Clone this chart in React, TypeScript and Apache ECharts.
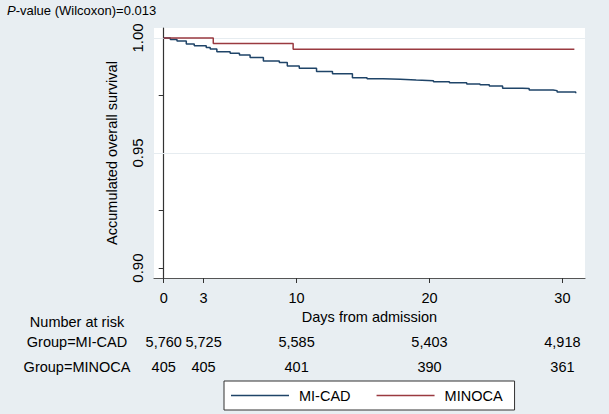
import React, { useEffect, useRef } from "react";
import * as echarts from "echarts";

const MICAD_DAYS = [0, 0.5, 1, 1.7, 2.3, 3.2, 3.5, 4.0, 5.0, 5.7, 6.5, 7.5, 8.7, 9.3, 10.2, 11.5, 12.7, 14.2, 15.3, 16.5, 17.8, 19.0, 20.3, 21.5, 22.8, 23.8, 24.5, 25.5, 27.0, 27.5, 29.3, 29.6, 31.0];
const MICAD_SURV = [1.0, 0.9993, 0.9986, 0.9973, 0.9966, 0.9958, 0.9952, 0.994, 0.9933, 0.9926, 0.9915, 0.99, 0.9893, 0.9878, 0.9868, 0.9854, 0.9844, 0.9827, 0.9823, 0.982, 0.9817, 0.9814, 0.981, 0.9805, 0.98, 0.9796, 0.9791, 0.9781, 0.978, 0.9774, 0.9771, 0.9765, 0.976];
const MINOCA_DAYS = [0, 3.73, 9.74, 30.9];
const MINOCA_SURV = [1.0, 0.99753, 0.99506, 0.99506];

const X_TICKS = [0, 3, 10, 20, 30];
const Y_LABELS = [0.9, 0.95, 1.0];
const Y_TICKS = [0.9, 0.925, 0.95, 0.975, 1.0];
const Y_GRID = [0.95, 1.0];
const GROUPS = ["MI-CAD", "MINOCA"];
const RISK_MICAD = ["5,760", "5,725", "5,585", "5,403", "4,918"];
const RISK_MINOCA = ["405", "405", "401", "390", "361"];

const FONT = "'Liberation Sans', Arial, sans-serif";
const BLUE = "#1f4468";
const RED = "#9a3a40";

export default function App() {
  const ref = useRef<HTMLDivElement>(null);
  useEffect(() => {
    if (!ref.current) return;
    const chart = echarts.init(ref.current, null, { renderer: "svg" });
    const option: any = {
      animation: false,
      backgroundColor: "#e8eef2",
      textStyle: { fontFamily: FONT },
      grid: {
        left: 154, top: 28, right: 24, bottom: 136,
        show: true, backgroundColor: "#ffffff", borderWidth: 0,
      },
      xAxis: {
        type: "value", min: -0.73, max: 31.7,
        name: "Days from admission", nameLocation: "middle", nameGap: 30,
        nameTextStyle: { fontSize: 14.5, color: "#000", fontFamily: FONT },
        axisLine: { show: true, lineStyle: { color: "#555", width: 1.2 } },
        axisTick: { show: true, customValues: X_TICKS, length: 5, lineStyle: { color: "#333" } },
        axisLabel: { customValues: X_TICKS, fontSize: 14.5, color: "#000", margin: 12, fontFamily: FONT },
        splitLine: { show: false },
      },
      yAxis: {
        type: "value", min: 0.8957, max: 1.0043,
        name: "Accumulated overall survival", nameLocation: "middle", nameGap: 35,
        nameTextStyle: { fontSize: 14.5, color: "#000", fontFamily: FONT },
        axisLine: { show: true, lineStyle: { color: "#333", width: 1.2 } },
        axisTick: { show: true, customValues: Y_TICKS, length: 5, lineStyle: { color: "#333" } },
        axisLabel: {
          customValues: Y_LABELS, rotate: 90, fontSize: 15, color: "#000", margin: 9, fontFamily: FONT,
          formatter: (v: number) => v.toFixed(2),
        },
        splitLine: { show: false },
      },
      legend: {
        data: GROUPS, left: 224, top: 381, orient: "horizontal",
        backgroundColor: "#fff", borderColor: "#333", borderWidth: 1,
        padding: [7, 12, 7, 7], itemGap: 26, itemWidth: 58, itemHeight: 1.5, icon: "rect",
        textStyle: { fontSize: 14.5, color: "#000", padding: [0, 0, 0, 5], fontFamily: FONT },
      },
      series: [
        {
          type: "line", name: "grid", data: [], z: 1, silent: true,
          markLine: {
            silent: true, symbol: "none", label: { show: false }, z: 1,
            lineStyle: { color: "#e6ecf0", width: 1.2, type: "solid" },
            data: Y_GRID.map((v) => ({ yAxis: v })),
          },
        },
        {
          type: "line", name: GROUPS[0], step: "end", showSymbol: false, z: 3,
          lineStyle: { color: BLUE, width: 1.5 }, itemStyle: { color: BLUE },
          data: MICAD_DAYS.map((d, i) => [d, MICAD_SURV[i]]),
        },
        {
          type: "line", name: GROUPS[1], step: "end", showSymbol: false, z: 3,
          lineStyle: { color: RED, width: 1.5 }, itemStyle: { color: RED },
          data: MINOCA_DAYS.map((d, i) => [d, MINOCA_SURV[i]]),
        },
      ],
    };
    chart.setOption(option);
    const xs = X_TICKS.map((d) => chart.convertToPixel({ xAxisIndex: 0 }, d) as number);
    const txt = (x: number, y: number, text: string, align = "center") => ({
      type: "text", x, y, silent: true,
      style: { text, fontSize: 14.5, fill: "#000", fontFamily: FONT, align, verticalAlign: "middle" },
    });
    const graphic: any[] = [
      {
        type: "text", x: 7, y: 10, silent: true,
        style: {
          text: "{i|P}-value (Wilcoxon)=0.013", fontSize: 13, fill: "#000", fontFamily: FONT,
          verticalAlign: "middle",
          rich: { i: { fontStyle: "italic", fontSize: 13, fontFamily: FONT, fill: "#000" } },
        },
      },
      txt(77, 322, "Number at risk"),
      txt(77, 342, "Group=MI-CAD"),
      txt(77, 367, "Group=MINOCA"),
    ];
    xs.forEach((x, i) => {
      graphic.push(txt(x, 342, RISK_MICAD[i]));
      graphic.push(txt(x, 367, RISK_MINOCA[i]));
    });
    chart.setOption({ graphic });
    return () => chart.dispose();
  }, []);
  return <div ref={ref} style={{ position: "absolute", left: 0, top: 0, width: 609, height: 414 }} />;
}
